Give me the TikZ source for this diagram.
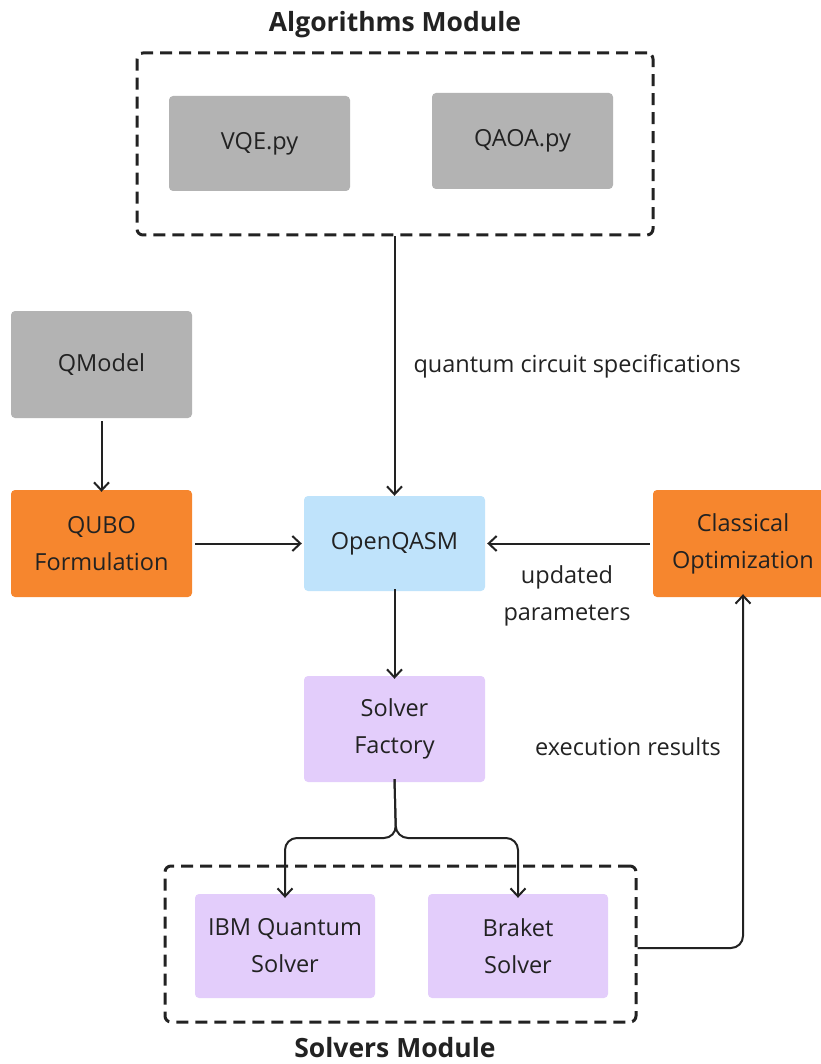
\documentclass[tikz,border=0pt]{standalone}
\usepackage{fontspec}
\setmainfont{Open Sans}
\usetikzlibrary{arrows.meta}
\definecolor{txt}{HTML}{222222}
\definecolor{boxgray}{HTML}{B3B3B3}
\definecolor{boxorange}{HTML}{F6862E}
\definecolor{boxblue}{HTML}{BFE3FB}
\definecolor{boxlilac}{HTML}{E3CDFB}
\tikzset{
  block/.style={rectangle, rounded corners=4pt, minimum width=181pt, minimum height=106pt,
    align=center, text=txt, font=\fontsize{23.5}{37}\selectfont, inner sep=0pt},
  group/.style={rectangle, rounded corners=6pt, draw=txt, line width=3pt,
    dash pattern=on 12pt off 7pt, inner sep=0pt},
  title/.style={text=txt, font=\bfseries\fontsize{26.5}{30}\selectfont},
  lbl/.style={text=txt, font=\fontsize{23.5}{37}\selectfont, align=center},
  link/.style={draw=txt, line width=2pt, -{Straight Barb[length=8pt,width=15pt,line width=2pt]}},
}
\begin{document}
\begin{tikzpicture}[x=1pt, y=-1pt]
  \useasboundingbox (0,0) rectangle (820,1064);

  % algorithms group
  \node[title] (algtitle) at (395,25) {Algorithms Module};
  \node[group, minimum width=516pt, minimum height=182pt] (alg) at (395,144) {};
  \node[block, fill=boxgray, minimum height=95pt] (vqe) at (259.5,143.5) {VQE.py};
  \node[block, fill=boxgray, minimum height=96pt] (qaoa) at (522.5,141) {QAOA.py};

  % model and formulation
  \node[block, fill=boxgray, minimum height=107pt] (qmodel) at (101.5,364.5) {QModel};
  \node[block, fill=boxorange, minimum height=107pt] (qubo) at (101.5,543.5) {QUBO\\Formulation};

  % core pipeline
  \node[block, fill=boxblue, minimum height=95pt] (oq) at (394.5,543.5) {OpenQASM};
  \node[block, fill=boxorange, minimum width=180pt, minimum height=107pt] (co) at (743,543.5) {Classical\\Optimization};
  \node[block, fill=boxlilac, minimum height=106pt] (sf) at (394.5,729) {Solver\\Factory};

  % solvers group
  \node[group, minimum width=471pt, minimum height=156pt] (solv) at (400.5,944) {};
  \node[block, fill=boxlilac, minimum width=180pt, minimum height=104pt] (ibm) at (285,946) {IBM Quantum\\Solver};
  \node[block, fill=boxlilac, minimum width=180pt, minimum height=104pt] (braket) at (518,946) {Braket\\Solver};
  \node[title] (solvtitle) at (395,1048) {Solvers Module};

  % connectors
  \draw[link] (alg.south -| oq.north) -- (oq.north);
  \draw[link] (qmodel.south) ++(0,3) -- ([yshift=-2pt]qubo.north);
  \draw[link] ([xshift=3pt]qubo.east) -- ([xshift=-2pt]oq.west);
  \draw[link] ([xshift=-3pt]co.west) -- ([xshift=2pt]oq.east);
  \draw[link] ([yshift=2pt]oq.south) -- ([yshift=-3pt]sf.north);
  \coordinate (split) at (396,838);
  \draw[link, rounded corners=12pt] ([yshift=3pt]sf.south) -- (split) -| ([yshift=-4pt]ibm.north);
  \draw[link, rounded corners=12pt] ([yshift=3pt]sf.south) -- (split) -| ([yshift=-4pt]braket.north);
  \draw[link, rounded corners=12pt] ([yshift=-4pt]solv.east) -| ([yshift=3pt]co.south);

  % labels
  \node[lbl, anchor=west] (lq) at (410,366) {quantum circuit specifications};
  \node[lbl] (lu) at (567,596) {updated\\parameters};
  \node[lbl] (le) at (628,747) {execution results};
\end{tikzpicture}
\end{document}
